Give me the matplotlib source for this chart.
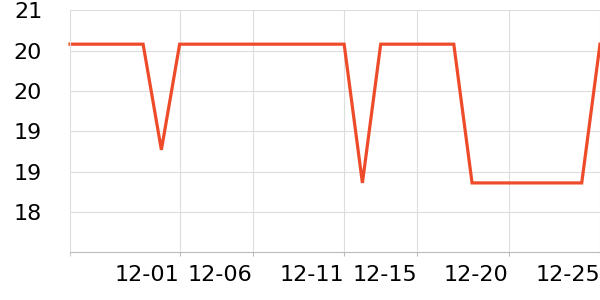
import numpy as np
import matplotlib
matplotlib.use("Agg")
import matplotlib.pyplot as plt
from matplotlib.ticker import FuncFormatter

# valori
temps = [20.58, 20.58, 20.58, 20.58, 20.58, 19.27,
         20.58, 20.58, 20.58, 20.58, 20.58, 20.58, 20.58, 20.58, 20.58, 20.58,
         18.86,
         20.58, 20.58, 20.58, 20.58, 20.58,
         18.86, 18.86, 18.86, 18.86, 18.86, 18.86, 18.86,
         20.58]
tick_idx = [6, 10, 15, 19, 24, 29]
tick_labels = ["12-01", "12-06", "12-11", "12-15", "12-20", "12-25"]
y_ticks = [18.5, 19.0, 19.5, 20.0, 20.5, 21.0]

fig = plt.figure(figsize=(6, 3), dpi=100)
ax = fig.add_axes([70 / 600, 1 - 252.3 / 300, 530 / 600, (252.3 - 10.3) / 300])

x = np.arange(len(temps))
ax.plot(x, temps, color="#ee4b2b", lw=2.3, solid_joinstyle="miter", clip_on=False)

ax.set_xlim(0, len(temps) - 1)
ax.set_ylim(18, 21)
ax.set_yticks(y_ticks)
# le etichette sono troncate all'intero
ax.yaxis.set_major_formatter(FuncFormatter(lambda v, p: str(int(np.floor(v)))))
ax.set_xticks(tick_idx)
ax.set_xticklabels(tick_labels, ha="right")
# tacca senza etichetta all'inizio dell'asse
ax.set_xticks([0], minor=True)

ax.grid(True, color="#dddddd", lw=0.8)
ax.set_axisbelow(True)
for s in ["top", "right"]:
    ax.spines[s].set_visible(False)
ax.spines["left"].set_color("#dddddd")
ax.spines["left"].set_linewidth(0.8)
ax.spines["bottom"].set_color("#bbbbbb")
ax.spines["bottom"].set_linewidth(0.8)

ax.tick_params(axis="y", length=0, pad=20, labelsize=16)
ax.tick_params(axis="x", which="both", length=3, color="#bbbbbb", pad=6, labelsize=16)

fig.savefig("out.png", dpi=100)
